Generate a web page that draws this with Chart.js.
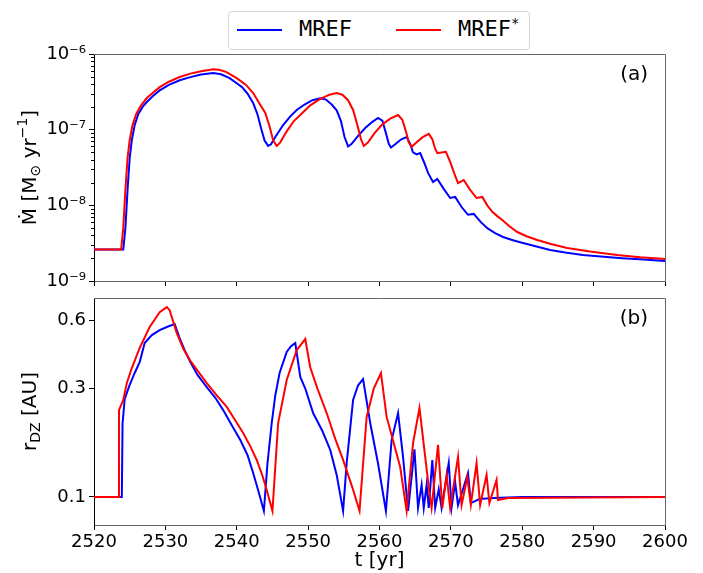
<!DOCTYPE html>
<html>
<head>
<meta charset="utf-8">
<script src="https://cdn.jsdelivr.net/npm/chart.js@4.4.0/dist/chart.umd.min.js"></script>
<style>
    body { margin: 0; background: #fff; }
    #wrap { position: relative; width: 703px; height: 573px; }
    #topChart { position: absolute; left: 0; top: 0; }
    #botChart { position: absolute; left: 0; top: 290px; }
    #legend {
        position: absolute; left: 228px; top: 11px; width: 300px; height: 37px;
        border: 1px solid #d6d6d6; border-radius: 4px; background: #fff;
        font-family: "DejaVu Sans Mono", monospace; font-size: 22px; color: #000; z-index: 2;
    }
    .ln { position: absolute; height: 2px; width: 45px; top: 17px; }
    .lb { position: absolute; top: 4px; line-height: 26px; white-space: nowrap; }
    .lb sup { font-size: 14px; position: relative; top: -6px; vertical-align: top; }
</style>
</head>
<body>
<div id="wrap">
    <canvas id="topChart" width="703" height="290"></canvas>
    <canvas id="botChart" width="703" height="283"></canvas>
    <div id="legend">
        <span class="ln" style="left:8px;background:#0000ff"></span>
        <span class="lb" style="left:70px">MREF</span>
        <span class="ln" style="left:167px;background:#ff0000"></span>
        <span class="lb" style="left:229px">MREF<sup>*</sup></span>
    </div>
</div>
<script>
/* ===================================================
   DATOS
=================================================== */

// panel (a): tasa de acreción [M_sun / yr]
const tBlueA = [2520, 2524.1, 2524.4, 2524.7, 2525.0, 2525.3, 2525.7, 2526.2, 2526.8, 2527.4,
    2528.3, 2529.2, 2530.5, 2532, 2533.5, 2535, 2536.7, 2537.8, 2539, 2540,
    2540.8, 2541.5, 2542.3, 2542.9, 2543.4, 2543.9, 2544.4, 2544.8, 2545.4, 2546.5,
    2547.5, 2548.4, 2549.5, 2550.6, 2551.7, 2552.5, 2553.3, 2554, 2554.6, 2555.1,
    2555.6, 2556.1, 2557, 2558, 2559, 2559.8, 2560.4, 2560.9, 2561.3, 2561.6,
    2562.2, 2563, 2563.8, 2564.3, 2564.7, 2565.2, 2565.7, 2566.3, 2566.8, 2567.5,
    2568.1, 2569.0, 2569.9, 2570.6, 2571.5, 2572.4, 2573.2, 2574.2, 2575.1, 2576.2,
    2577.3, 2578.7, 2580.1, 2582, 2583.9, 2586, 2588.5, 2591, 2594, 2597, 2600];
const mdotBlue = [2.6e-9, 2.6e-9, 5e-9, 1.6e-8, 4.2e-8, 7.3e-8, 1.15e-7, 1.6e-7, 2.0e-7, 2.32e-7,
    2.8e-7, 3.3e-7, 3.9e-7, 4.5e-7, 4.95e-7, 5.35e-7, 5.6e-7, 5.4e-7, 4.8e-7, 4.1e-7,
    3.6e-7, 3.0e-7, 2.25e-7, 1.6e-7, 1.05e-7, 7.2e-8, 6.1e-8, 6.4e-8, 8.0e-8, 1.15e-7,
    1.5e-7, 1.82e-7, 2.15e-7, 2.45e-7, 2.6e-7, 2.5e-7, 2.15e-7, 1.8e-7, 1.3e-7, 8.0e-8,
    6.0e-8, 6.5e-8, 8.3e-8, 1.05e-7, 1.27e-7, 1.43e-7, 1.32e-7, 9e-8, 6.5e-8, 5.8e-8,
    6.4e-8, 7.4e-8, 8.0e-8, 6.5e-8, 5.0e-8, 4.7e-8, 4.9e-8, 3.6e-8, 2.68e-8, 2.03e-8,
    2.23e-8, 1.65e-8, 1.25e-8, 1.29e-8, 9.5e-9, 7.5e-9, 7.7e-9, 6.0e-9, 5.0e-9, 4.3e-9,
    3.82e-9, 3.45e-9, 3.18e-9, 2.85e-9, 2.57e-9, 2.38e-9, 2.21e-9, 2.1e-9, 2.0e-9, 1.92e-9, 1.84e-9];

const tRedA = [2520, 2523.8, 2524.1, 2524.4, 2524.7, 2525.0, 2525.4, 2525.9, 2526.6, 2527.4,
    2528.3, 2529.2, 2530.5, 2532, 2533.5, 2535, 2536.7, 2537.5, 2538.5, 2540,
    2541.3, 2542.3, 2543.2, 2544, 2544.6, 2545.1, 2545.6, 2546.1, 2547, 2548,
    2548.9, 2550.3, 2551.7, 2553, 2554, 2554.8, 2555.6, 2556.3, 2556.9, 2557.4,
    2557.8, 2558.4, 2559.3, 2560.3, 2561.5, 2562.6, 2563.2, 2563.7, 2564.1, 2564.5,
    2565.2, 2566, 2566.9, 2567.4, 2567.8, 2568.1, 2568.7, 2569.3, 2569.9, 2570.5,
    2571, 2571.8, 2572.7, 2573.6, 2574.4, 2575.1, 2575.8, 2576.5, 2577.2, 2578.2,
    2579.3, 2580.6, 2582.1, 2584, 2586.3, 2589.5, 2593.3, 2596.5, 2600];
const mdotRed = [2.6e-9, 2.6e-9, 5e-9, 1.6e-8, 4.2e-8, 7.3e-8, 1.15e-7, 1.6e-7, 2.1e-7, 2.62e-7,
    3.1e-7, 3.65e-7, 4.3e-7, 4.97e-7, 5.5e-7, 5.9e-7, 6.3e-7, 6.2e-7, 5.8e-7, 4.8e-7,
    3.9e-7, 3.05e-7, 2.2e-7, 1.66e-7, 1.1e-7, 7.2e-8, 6.1e-8, 6.8e-8, 9.5e-8, 1.3e-7,
    1.56e-7, 2.1e-7, 2.55e-7, 2.9e-7, 3.05e-7, 2.9e-7, 2.45e-7, 1.82e-7, 1.15e-7, 7.5e-8,
    6.1e-8, 6.8e-8, 9e-8, 1.15e-7, 1.4e-7, 1.56e-7, 1.35e-7, 9.5e-8, 6.8e-8, 5.9e-8,
    6.8e-8, 7.9e-8, 8.8e-8, 7.5e-8, 5.6e-8, 4.9e-8, 5.0e-8, 5.1e-8, 3.74e-8, 2.6e-8,
    1.97e-8, 2.16e-8, 1.6e-8, 1.25e-8, 1.29e-8, 1.0e-8, 8.2e-9, 7.2e-9, 6.4e-9, 5.3e-9,
    4.44e-9, 3.9e-9, 3.48e-9, 3.08e-9, 2.73e-9, 2.45e-9, 2.21e-9, 2.06e-9, 1.95e-9];

// panel (b): radio de la zona muerta [AU]
const tBlueB = [2520, 2523.9, 2524.0, 2524.3, 2525.0, 2525.7, 2526.4, 2527.1, 2528.1, 2529.2,
    2530.2, 2531.3, 2532, 2532.7, 2533.5, 2534.5, 2535.8, 2537, 2538.1, 2539.3,
    2540.5, 2541.5, 2542.3, 2543, 2543.8, 2544.3, 2544.9, 2545.4, 2546, 2547,
    2547.6, 2548.2, 2548.9, 2549.6, 2550.7, 2552, 2553.1, 2554, 2554.9, 2555.4,
    2556.3, 2557, 2557.7, 2558.7, 2559.8, 2560.9, 2561.7, 2562.6, 2563.3, 2564.0,
    2564.9, 2565.4, 2565.9, 2566.2, 2566.6, 2566.9, 2567.4, 2567.8, 2568.3, 2568.7,
    2569.7, 2570.1, 2570.6, 2571.0, 2572.4, 2572.8, 2574, 2576, 2580, 2600];
const rdzBlue = [0.1, 0.1, 0.21, 0.27, 0.311, 0.351, 0.392, 0.475, 0.515, 0.542,
    0.559, 0.576, 0.5, 0.442, 0.392, 0.344, 0.304, 0.273, 0.241, 0.207,
    0.178, 0.153, 0.1275, 0.107, 0.0868, 0.14, 0.2115, 0.28, 0.351, 0.434,
    0.46, 0.475, 0.337, 0.3, 0.234, 0.195, 0.161, 0.125, 0.0868, 0.141,
    0.267, 0.31, 0.33, 0.2115, 0.14, 0.0868, 0.178, 0.234, 0.15, 0.0868,
    0.162, 0.0895, 0.113, 0.0895, 0.113, 0.0895, 0.1455, 0.0895, 0.108, 0.0895,
    0.141, 0.09, 0.116, 0.092, 0.1275, 0.094, 0.098, 0.099, 0.1, 0.1];

const tRedB = [2520, 2523.4, 2523.5, 2524.1, 2524.6, 2525.3, 2526.4, 2527.8, 2529.2, 2530.2,
    2530.6, 2531.6, 2532.5, 2533.5, 2535.8, 2537.2, 2538.6, 2539.8, 2540.9, 2541.9,
    2542.8, 2543.6, 2544.2, 2545.0, 2545.8, 2547, 2548.4, 2549.6, 2550.3, 2551.3,
    2552.6, 2553.8, 2554.9, 2556.2, 2557.2, 2558.2, 2559.2, 2560.2, 2561, 2562.9,
    2563.8, 2564.7, 2565.6, 2567.0, 2567.3, 2568.2, 2568.8, 2569.4, 2569.9, 2571,
    2571.5, 2572.3, 2572.8, 2573.6, 2574.1, 2575, 2575.4, 2576.4, 2576.6, 2578, 2600];
const rdzRed = [0.1, 0.1, 0.241, 0.267, 0.317, 0.369, 0.452, 0.559, 0.65, 0.684,
    0.663, 0.526, 0.45, 0.397, 0.317, 0.28, 0.249, 0.217, 0.191, 0.167,
    0.1455, 0.124, 0.1073, 0.0868, 0.2115, 0.327, 0.442, 0.495, 0.371, 0.3,
    0.234, 0.18, 0.1455, 0.11, 0.0868, 0.225, 0.3, 0.351, 0.225, 0.1355,
    0.0868, 0.1727, 0.246, 0.104, 0.0895, 0.1695, 0.0895, 0.125, 0.0895, 0.15,
    0.0922, 0.122, 0.0922, 0.141, 0.0922, 0.125, 0.094, 0.1188, 0.097, 0.099, 0.1];

// ejes
const tTicks = [2520, 2530, 2540, 2550, 2560, 2570, 2580, 2590, 2600];
const mdotTicks = [1e-9, 1e-8, 1e-7, 1e-6];
const rdzTicks = [0.1, 0.3, 0.6];

/* ===================================================
   UTILIDADES
=================================================== */

const FONT = '"DejaVu Sans", sans-serif';
const SUP = { '-': '\u207B', '0': '\u2070', '1': '\u00B9', '2': '\u00B2', '3': '\u00B3',
    '4': '\u2074', '5': '\u2075', '6': '\u2076', '7': '\u2077', '8': '\u2078', '9': '\u2079' };

function pts(t, v) {
    return t.map((x, i) => ({ x: x, y: v[i] }));
}

function powLabel(v) {
    const e = String(Math.round(Math.log10(v)));
    return '10' + e.split('').map((c) => SUP[c]).join('');
}

// texto vertical con sub/superíndices
function drawRich(ctx, parts, cx, cy) {
    ctx.save();
    ctx.translate(cx, cy);
    ctx.rotate(-Math.PI / 2);
    ctx.fillStyle = '#000';
    ctx.textAlign = 'left';
    ctx.textBaseline = 'alphabetic';
    let w = 0;
    parts.forEach((p) => {
        ctx.font = p.size + 'px ' + FONT;
        p.w = ctx.measureText(p.t).width;
        w += p.w;
    });
    let x = -w / 2;
    parts.forEach((p) => {
        ctx.font = p.size + 'px ' + FONT;
        ctx.fillText(p.t, x, p.dy);
        x += p.w;
    });
    ctx.restore();
}

function framePlugin(label, yTitle, minor) {
    return {
        id: 'frame' + label,
        afterDraw(chart) {
            const ctx = chart.ctx;
            const a = chart.chartArea;
            ctx.save();
            // bordes superior y derecho
            ctx.strokeStyle = '#666';
            ctx.lineWidth = 1;
            ctx.beginPath();
            ctx.moveTo(a.left, a.top + 0.5);
            ctx.lineTo(a.right + 0.5, a.top + 0.5);
            ctx.lineTo(a.right + 0.5, a.bottom);
            ctx.stroke();
            // ticks menores en eje log
            if (minor) {
                const ys = chart.scales.y;
                ctx.strokeStyle = '#000';
                ctx.beginPath();
                for (let d = -9; d < -6; d++) {
                    for (let k = 2; k <= 9; k++) {
                        const py = Math.round(ys.getPixelForValue(k * Math.pow(10, d))) + 0.5;
                        ctx.moveTo(a.left - 3, py);
                        ctx.lineTo(a.left, py);
                    }
                }
                ctx.stroke();
            }
            // etiqueta del panel
            ctx.fillStyle = '#000';
            ctx.font = '20px ' + FONT;
            ctx.textAlign = 'right';
            ctx.textBaseline = 'middle';
            ctx.fillText(label, a.right - 17, a.top + 21);
            ctx.restore();
            drawRich(ctx, yTitle, 36, (a.top + a.bottom) / 2);
        },
    };
}

function lineSet(label, data, color, order) {
    return {
        label: label,
        data: data,
        borderColor: color,
        backgroundColor: color,
        borderWidth: 2,
        pointRadius: 0,
        tension: 0,
        fill: false,
        order: order,
    };
}

function xAxis(showLabels, h) {
    return {
        type: 'linear',
        min: 2520,
        max: 2600,
        afterBuildTicks: (s) => { s.ticks = tTicks.map((v) => ({ value: v })); },
        afterFit: (s) => { s.height = h; s.paddingLeft = 0; s.paddingRight = 0; },
        ticks: {
            display: showLabels,
            color: '#000',
            font: { family: FONT, size: 18 },
            padding: 2,
            maxRotation: 0,
            callback: (v) => String(v),
        },
        grid: { drawOnChartArea: false, drawTicks: true, tickLength: 5, color: '#000' },
        border: { display: true, color: '#666', width: 1 },
        title: {
            display: showLabels,
            text: 't [yr]',
            color: '#000',
            font: { family: FONT, size: 20 },
            padding: { top: 0, bottom: 0 },
        },
    };
}

function yAxis(min, max, ticks, fmt) {
    return {
        type: 'logarithmic',
        min: min,
        max: max,
        afterBuildTicks: (s) => { s.ticks = ticks.map((v) => ({ value: v })); },
        afterFit: (s) => { s.width = 94; s.paddingTop = 0; s.paddingBottom = 0; },
        ticks: {
            color: '#000',
            font: { family: FONT, size: 18 },
            padding: 3,
            callback: fmt,
        },
        grid: { drawOnChartArea: false, drawTicks: true, tickLength: 5, color: '#000' },
        border: { display: true, color: '#000', width: 1 },
    };
}

const baseOptions = {
    responsive: false,
    maintainAspectRatio: false,
    animation: false,
    devicePixelRatio: 1,
    plugins: { legend: { display: false }, tooltip: { enabled: false } },
};

/* ===================================================
   GRÁFICOS
=================================================== */

new Chart(document.getElementById('topChart').getContext('2d'), {
    type: 'line',
    data: {
        datasets: [
            lineSet('MREF', pts(tBlueA, mdotBlue), '#0000ff', 1),
            lineSet('MREF*', pts(tRedA, mdotRed), '#ff0000', 0),
        ],
    },
    options: Object.assign({}, baseOptions, {
        layout: { padding: { left: 0, right: 38, top: 54, bottom: 4 } },
        scales: {
            x: xAxis(false, 5),
            y: yAxis(1e-9, 1e-6, mdotTicks, (v) => powLabel(v)),
        },
    }),
    plugins: [framePlugin('(a)', [
        { t: '\u1E40 [M', size: 20, dy: 0 },
        { t: '\u2299', size: 14, dy: 4 },
        { t: ' yr', size: 20, dy: 0 },
        { t: '\u22121', size: 14, dy: -9 },
        { t: ']', size: 20, dy: 0 },
    ], true)],
});

new Chart(document.getElementById('botChart').getContext('2d'), {
    type: 'line',
    data: {
        datasets: [
            lineSet('MREF', pts(tBlueB, rdzBlue), '#0000ff', 1),
            lineSet('MREF*', pts(tRedB, rdzRed), '#ff0000', 0),
        ],
    },
    options: Object.assign({}, baseOptions, {
        layout: { padding: { left: 0, right: 38, top: 8, bottom: 0 } },
        scales: {
            x: xAxis(true, 48),
            y: yAxis(0.0753, 0.75, rdzTicks, (v) => String(v)),
        },
    }),
    plugins: [framePlugin('(b)', [
        { t: 'r', size: 20, dy: 0 },
        { t: 'DZ', size: 14, dy: 4 },
        { t: ' [AU]', size: 20, dy: 0 },
    ], false)],
});
</script>
</body>
</html>
